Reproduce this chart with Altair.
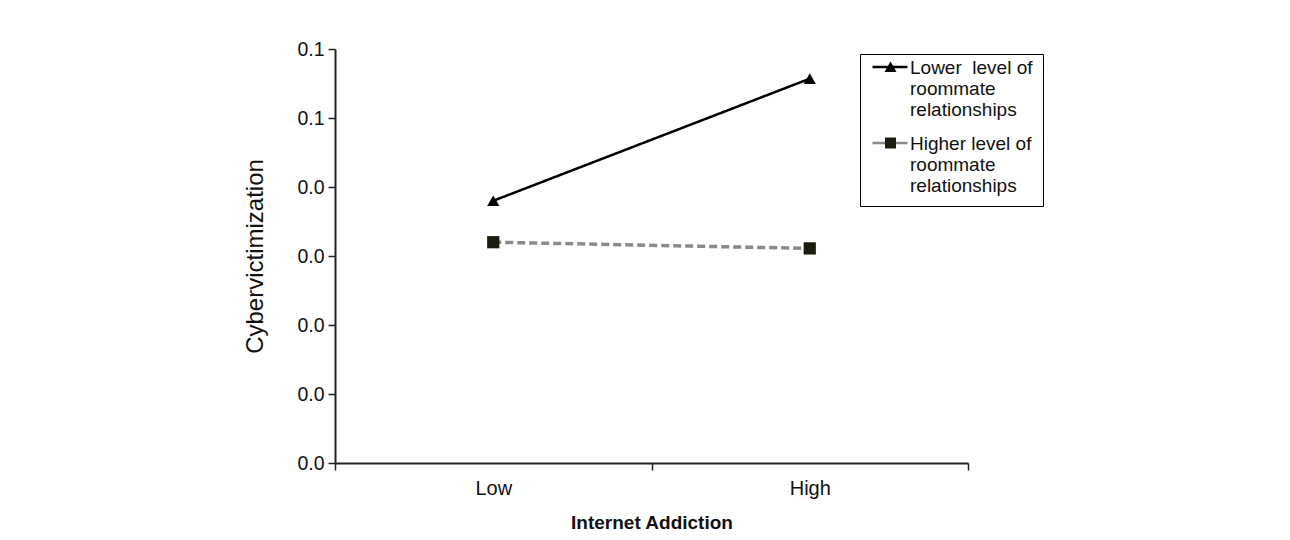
import altair as alt
import pandas as pd

levels = ["Low", "High"]
series_names = ["Lower\u00a0 level of|roommate|relationships", "Higher level of|roommate|relationships"]
lower_vals = [0.038, 0.0557]
higher_vals = [0.032, 0.0311]
y_ticks = [0.0, 0.01, 0.02, 0.03, 0.04, 0.05, 0.06]

rows = []
for lv, v in zip(levels, lower_vals):
    rows.append({"ia": lv, "cv": v, "series": series_names[0]})
for lv, v in zip(levels, higher_vals):
    rows.append({"ia": lv, "cv": v, "series": series_names[1]})
df = pd.DataFrame(rows)

x_enc = alt.X("ia:N", sort=levels,
              scale=alt.Scale(type="band", paddingInner=0, paddingOuter=0),
              axis=alt.Axis(title="Internet Addiction", labelAngle=0, tickBand="extent",
                            titleFontWeight="bold", titleFontSize=19, titlePadding=15,
                            labelPadding=8, labelFontSize=20))
y_enc = alt.Y("cv:Q", scale=alt.Scale(domain=[0, 0.06], nice=False, zero=True),
              axis=alt.Axis(title="Cybervictimization", values=y_ticks, format=".1f",
                            grid=False, titleFontSize=24, titleFontWeight="normal",
                            titlePadding=29, labelPadding=4, labelFontSize=19.5))

lines = alt.Chart(df).mark_line().encode(
    x=x_enc, y=y_enc,
    stroke=alt.Stroke("series:N", sort=series_names,
                      scale=alt.Scale(domain=series_names, range=["#000000", "#8a8a8a"]), legend=None),
    strokeDash=alt.StrokeDash("series:N", sort=series_names,
                              scale=alt.Scale(domain=series_names, range=[[1, 0], [8, 4]]), legend=None),
    strokeWidth=alt.StrokeWidth("series:N",
                                scale=alt.Scale(domain=series_names, range=[2.5, 3.5]), legend=None),
)

points = alt.Chart(df).mark_point(filled=True, opacity=1, size=150).encode(
    x=x_enc, y=y_enc,
    shape=alt.Shape("series:N", scale=alt.Scale(domain=series_names, range=["triangle-up", "square"]), legend=None),
    fill=alt.Fill("series:N", scale=alt.Scale(domain=series_names, range=["#000000", "#1c1c10"]), legend=None),
)

# legend symbols: custom paths in units of sqrt(symbolSize)/2
dy = -1.3
line_path = f"M-1.4,{dy}H5.6"
tri_path = f"M2.2,{dy - 1.1}L3.4,{dy + 1.0}H1.0Z"
sq_path = f"M1.1,{dy - 1.1}H3.3V{dy + 1.1}H1.1Z"

common = dict(title=None, orient="none", legendX=525, legendY=5,
              labelExpr="split(datum.label, '|')", labelFontSize=19, labelLimit=300,
              symbolSize=100, padding=10, rowPadding=14, labelOffset=21,
              labelBaseline="alphabetic", symbolOpacity=1)

legend_lines = alt.Chart(df).mark_point(filled=False, opacity=0).encode(
    x=x_enc, y=y_enc,
    stroke=alt.Stroke("series:N", scale=alt.Scale(domain=series_names, range=["#000000", "#8a8a8a"]),
                      legend=alt.Legend(symbolType=line_path, symbolStrokeWidth=2.5,
                                        labelColor="#111111", strokeColor="#000000",
                                        fillColor="#ffffff", zindex=0, **common)),
)

legend_marks = alt.Chart(df).mark_point(filled=True, opacity=0).encode(
    x=x_enc, y=y_enc,
    shape=alt.Shape("series:N", scale=alt.Scale(domain=series_names, range=[tri_path, sq_path]),
                    legend=alt.Legend(symbolStrokeWidth=0, labelOpacity=0, zindex=1, **common)),
    fill=alt.Fill("series:N", scale=alt.Scale(domain=series_names, range=["#000000", "#1c1c10"])),
)

chart = alt.layer(lines, points, legend_lines, legend_marks).resolve_scale(
    shape="independent", fill="independent", stroke="independent"
).properties(
    width=633, height=414,
    autosize=alt.AutoSizeParams(type="none"),
    padding={"left": 327, "top": 41, "right": 300, "bottom": 70},
).configure_view(stroke=None).configure_axis(
    domainColor="#222222", domainWidth=2, tickColor="#222222", tickWidth=1.5, tickSize=7,
    labelFont="Liberation Sans", titleFont="Liberation Sans",
    labelColor="#111111", titleColor="#111111",
).configure_legend(labelFont="Liberation Sans")

chart.save("out.html", embed_options={"renderer": "svg", "actions": False})
